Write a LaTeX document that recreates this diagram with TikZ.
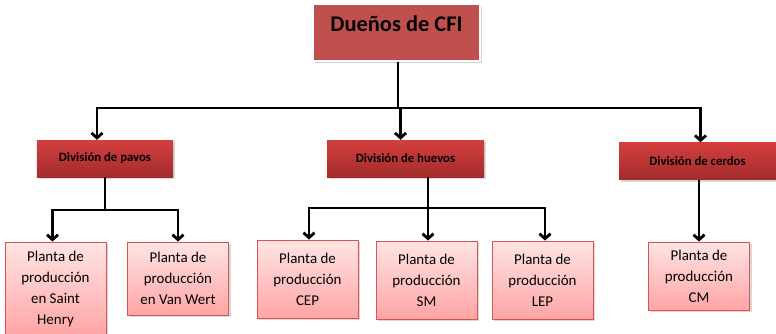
\documentclass[tikz,border=0pt]{standalone}
\usepackage{fontspec}
\setmainfont{Carlito}
\usetikzlibrary{arrows,arrows.meta,shadows}
\definecolor{jefecol}{HTML}{C0504D}
\definecolor{divtop}{HTML}{D43F3F}
\definecolor{divbot}{HTML}{A32B2B}
\definecolor{plantatop}{HTML}{FFE4E4}
\definecolor{plantabot}{HTML}{FFA5A5}
\definecolor{plantaborde}{HTML}{D9534F}
\begin{document}
\begin{tikzpicture}[x=1bp,y=-1bp,
    jefe/.style={draw=white,line width=1.5bp,fill=jefecol,minimum width=167bp,minimum height=57bp,
        text height=16bp,text depth=19bp,
        font=\fontsize{22.5}{26}\selectfont\bfseries,drop shadow={opacity=0.35,shadow xshift=1.5bp,shadow yshift=-1.5bp}},
    division/.style={top color=divtop,bottom color=divbot,minimum height=37bp,
        font=\fontsize{12.8}{15}\selectfont\bfseries,drop shadow={opacity=0.3,shadow xshift=2bp,shadow yshift=-2bp}},
    planta/.style={draw=plantaborde,line width=0.8bp,top color=plantatop,bottom color=plantabot,
        minimum width=101bp,align=center,font=\fontsize{15}{21}\selectfont,
        drop shadow={opacity=0.3,shadow xshift=2bp,shadow yshift=-2bp}},
    linea/.style={line width=2.8bp},
    flecha/.style={line width=2.8bp,-{Straight Barb[length=5bp,width=11bp]}}]
    \useasboundingbox[fill=white] (0,0) rectangle (776,333);
    % cabecera
    \node[jefe] (cfi) at (396.5,32.5) {Dueños de CFI};
    % divisiones
    \node[division,minimum width=136bp] (pavos) at (105,158.5) {División de pavos};
    \node[division,minimum width=157bp] (huevos) at (405.5,158.5) {División de huevos};
    \node[division,minimum width=157bp] (cerdos) at (697.5,161) {División de cerdos};
    % plantas
    \node[planta,minimum height=94bp] (henry) at (55.5,289) {Planta de\\producción\\en Saint\\Henry};
    \node[planta,minimum height=73bp] (wert) at (178,278.5) {Planta de\\producción\\en Van Wert};
    \node[planta,minimum height=78bp] (cep) at (307.5,279) {Planta de\\producción\\CEP};
    \node[planta,minimum height=78bp] (sm) at (426.5,280) {Planta de\\producción\\SM};
    \node[planta,minimum height=78bp] (lep) at (542.5,280) {Planta de\\producción\\LEP};
    \node[planta,minimum height=68bp] (cm) at (699,276) {Planta de\\producción\\CM};
    % conectores
    \coordinate (bus) at (398,108);
    \draw[linea] (cfi.south -| bus) -- (bus);
    \draw[flecha] (bus) -| ([xshift=-8bp]pavos.north);
    \draw[flecha] (bus) -| ([xshift=-5bp]huevos.north);
    \draw[flecha] (bus) -| ([xshift=3bp]cerdos.north);
    \coordinate (pbus) at (105,210);
    \draw[linea] (pavos.south) -- (pbus);
    \draw[flecha] (pbus) -| ([xshift=-3bp]henry.north);
    \draw[flecha] (pbus) -| (wert.north);
    \coordinate (hbus) at (428,208);
    \draw[linea] (huevos.south -| hbus) -- (hbus);
    \draw[flecha] (hbus) -- (hbus |- sm.north);
    \draw[flecha] (hbus) -| ([xshift=1.5bp]cep.north);
    \draw[flecha] (hbus) -| ([xshift=2.5bp]lep.north);
    \draw[flecha] (cerdos.south -| cm.north) -- (cm.north);
\end{tikzpicture}
\end{document}
